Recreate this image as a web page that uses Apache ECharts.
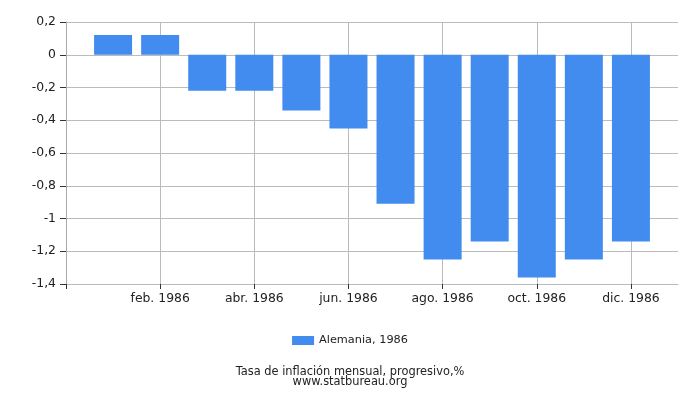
<!DOCTYPE html>
<html>
<head>
<meta charset="utf-8">
<script src="https://cdn.jsdelivr.net/npm/echarts@6/dist/echarts.min.js"></script>
<style>
html,body{margin:0;padding:0;background:#fff;}
#chart{width:700px;height:400px;}
</style>
</head>
<body>
<div id="chart"></div>
<script>
var months = [1, 2, 3, 4, 5, 6, 7, 8, 9, 10, 11, 12];
var values = [0.12, 0.12, -0.22, -0.22, -0.34, -0.45, -0.91, -1.25, -1.14, -1.36, -1.25, -1.14];
var tickPositions = [0, 2, 4, 6, 8, 10, 12];
var tickLabels = {2: 'feb. 1986', 4: 'abr. 1986', 6: 'jun. 1986', 8: 'ago. 1986', 10: 'oct. 1986', 12: 'dic. 1986'};
var seriesName = 'Alemania, 1986';
var titleText = 'Tasa de inflación mensual, progresivo,%';
var sourceText = 'www.statbureau.org';

var font = 'DejaVu Sans';
var chart = echarts.init(document.getElementById('chart'));
chart.setOption({
  animation: false,
  grid: {left: 66, right: 22, top: 22, bottom: 116, containLabel: false},
  legend: {
    data: [seriesName], left: 'center', top: 330,
    itemWidth: 22, itemHeight: 9, itemGap: 10,
    icon: 'rect',
    textStyle: {fontFamily: font, fontSize: 11.3, color: '#222'}
  },
  xAxis: {
    type: 'value', min: 0, max: 13, interval: 2,
    axisLine: {onZero: false, lineStyle: {color: '#bbb'}},
    axisTick: {show: true, length: 5, customValues: tickPositions, lineStyle: {color: '#333'}},
    axisLabel: {
      margin: 9, fontFamily: font, fontSize: 12.4, color: '#222',
      formatter: function (v) { return tickLabels[v] || ''; }
    },
    splitLine: {show: true, lineStyle: {color: '#bbb'}}
  },
  yAxis: {
    type: 'value', min: -1.4, max: 0.2, interval: 0.2,
    axisLine: {show: true, lineStyle: {color: '#aaa'}},
    axisTick: {show: true, length: 6, lineStyle: {color: '#333'}},
    axisLabel: {
      margin: 10, fontFamily: font, fontSize: 12.4, color: '#222',
      formatter: function (v) { return String(Math.round(v * 10) / 10).replace('.', ','); }
    },
    splitLine: {show: true, lineStyle: {color: '#bbb'}}
  },
  series: [{
    name: seriesName, type: 'bar', barWidth: 38,
    itemStyle: {color: '#428bef'},
    data: months.map(function (m, i) { return [m, values[i]]; })
  }],
  graphic: [
    {type: 'text', left: 'center', top: 367, style: {text: titleText, font: '11.4px "DejaVu Sans"', fill: '#222'}},
    {type: 'text', left: 'center', top: 376.5, style: {text: sourceText, font: '11.4px "DejaVu Sans"', fill: '#222'}}
  ]
});
</script>
</body>
</html>
